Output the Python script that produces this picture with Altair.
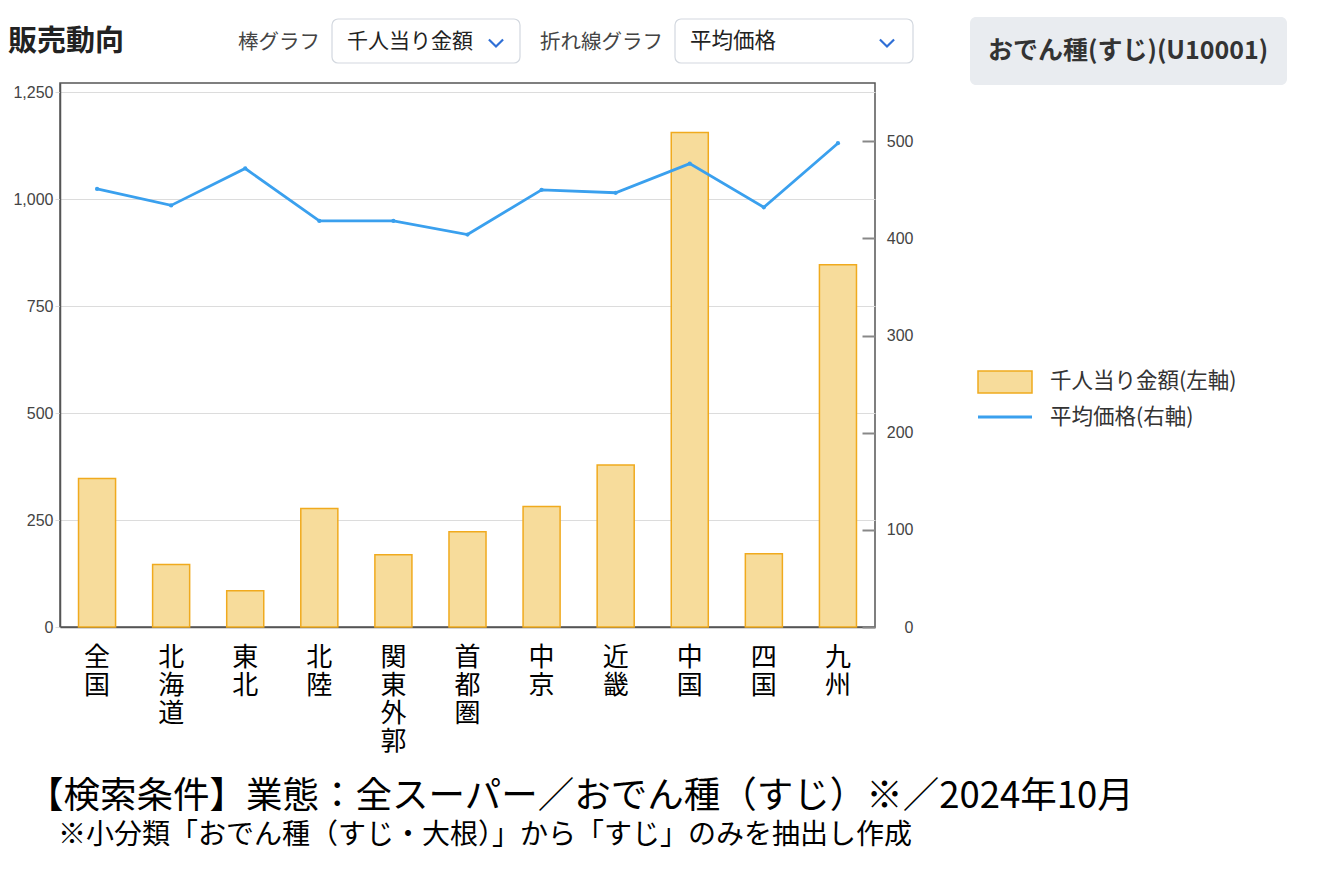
import altair as alt
import pandas as pd

# ---- data ----
regions = ["全国", "北海道", "東北", "北陸", "関東外郭", "首都圏", "中京", "近畿", "中国", "四国", "九州"]
amount_per_1000 = [347, 146, 85, 277, 169, 223, 282, 379, 1156, 171, 847]   # 千人当り金額 (left axis)
avg_price = [451, 434, 472, 418, 418, 404, 450, 447, 477, 432, 498]         # 平均価格 (right axis)
left_ticks = [0, 250, 500, 750, 1000, 1250]
right_ticks = [0, 100, 200, 300, 400, 500]

df = pd.DataFrame({"region": regions, "amount": amount_per_1000, "price": avg_price})
one = pd.DataFrame({"k": [0]})

W, H = 815, 544
L, T = 60, 83
CJK = "Noto Sans CJK JP"
LAT = "Liberation Sans"
BAR_FILL = "#F7DC9B"
BAR_STROKE = "#F0AA1E"
LINE_C = "#3AA0EE"

x_enc = alt.X(
    "region:N", sort=regions, title=None,
    scale=alt.Scale(paddingInner=0.5, paddingOuter=0.25),
    axis=alt.Axis(labelAngle=0, labelExpr="split(datum.label, '')", labelFont=CJK,
                  labelFontSize=26, labelLineHeight=28, labelColor="#000",
                  labelPadding=17, ticks=False, tickSize=0, labelBaseline="top",
                  domainColor="#555", domainWidth=1.5, labelOverlap=False),
)

bars = alt.Chart(df).mark_bar(fill=BAR_FILL, stroke=BAR_STROKE, strokeWidth=1.5).encode(
    x=x_enc,
    y=alt.Y("amount:Q", title=None, scale=alt.Scale(domain=[0, 1272], nice=False),
            axis=alt.Axis(values=left_ticks, format=",.0f", orient="left", grid=True,
                          gridColor="#DCDCDC", tickColor="#DCDCDC", tickSize=5,
                          labelFont=LAT, labelFontSize=16, labelColor="#444",
                          domainColor="#555", domainWidth=1.5, labelPadding=2)),
)

line_base = alt.Chart(df).encode(
    x=x_enc,
    y=alt.Y("price:Q", title=None, scale=alt.Scale(domain=[0, 560], nice=False),
            axis=alt.Axis(orient="right", values=right_ticks, format="d", grid=False, offset=-13,
                          tickSize=13, tickColor="#888", tickWidth=2, domain=False,
                          labelAlign="right", labelPadding=38, labelFont=LAT,
                          labelFontSize=16, labelColor="#444")),
)
line = line_base.mark_line(color=LINE_C, strokeWidth=2.8)
pts = line_base.mark_point(filled=True, color=LINE_C, size=18, opacity=1)
right_layer = alt.layer(line, pts)


def txt(s, x, y, size, weight="normal", color="#222", font=CJK, align="left"):
    return alt.Chart(one).mark_text(
        text=s, align=align, baseline="middle", font=font, fontSize=size,
        fontWeight=weight, color=color
    ).encode(x=alt.value(x - L), y=alt.value(y - T))


def box(x1, y1, x2, y2, fill, stroke=None, radius=6, sw=1.2):
    kw = dict(cornerRadius=radius, fill=fill)
    if stroke:
        kw.update(stroke=stroke, strokeWidth=sw)
    return alt.Chart(one).mark_rect(**kw).encode(
        x=alt.value(x1 - L), x2=alt.value(x2 - L), y=alt.value(y1 - T), y2=alt.value(y2 - T))


def chevron(xc, yc):
    return alt.Chart(one).mark_point(
        shape="M-1,-0.5L0,0.5L1,-0.5", filled=False, stroke="#2F6FD6", strokeWidth=2.2,
        size=200, opacity=1
    ).encode(x=alt.value(xc - L), y=alt.value(yc - T))


deco = [
    txt("販売動向", 8, 42, 29, weight="bold", color="#222"),
    txt("棒グラフ", 238, 43, 20.5, color="#444"),
    box(332, 19, 520, 63, "#FFFFFF", "#D3D8DF"),
    txt("千人当り金額", 347, 42, 21, color="#222"),
    chevron(496, 43),
    txt("折れ線グラフ", 540, 43, 20.5, color="#444"),
    box(675, 19, 913, 63, "#FFFFFF", "#D3D8DF"),
    txt("平均価格", 690, 42, 21.5, color="#222"),
    chevron(887, 43),
    box(970, 17, 1287, 85, "#E9ECF0", radius=6),
    txt("おでん種(すじ)(U10001)", 988, 51, 25, weight="bold", color="#333"),
    # legend
    box(978, 371, 1032, 393, BAR_FILL, BAR_STROKE, radius=0, sw=1.5),
    txt("千人当り金額(左軸)", 1050, 382, 21.5, color="#333"),
    alt.Chart(one).mark_rule(color=LINE_C, strokeWidth=3).encode(
        x=alt.value(978 - L), x2=alt.value(1032 - L), y=alt.value(417 - T)),
    txt("平均価格(右軸)", 1050, 418, 21.5, color="#333"),
    # footnotes
    txt("【検索条件】業態：全スーパー／おでん種（すじ）※／2024年10月", 27, 797, 36.5, color="#000"),
    txt("※小分類「おでん種（すじ・大根）」から「すじ」のみを抽出し作成", 58, 836, 28, color="#000"),
]

chart = alt.layer(bars, right_layer, *deco).resolve_scale(y="independent").properties(
    width=W, height=H,
    autosize=alt.AutoSizeParams(type="none"),
    padding={"left": L, "top": T, "right": 1321 - L - W, "bottom": 872 - T - H},
    background="#FFFFFF",
).configure_view(stroke="#555", strokeWidth=1.5)

chart.save("out.html", embed_options={"renderer": "svg", "actions": False})
